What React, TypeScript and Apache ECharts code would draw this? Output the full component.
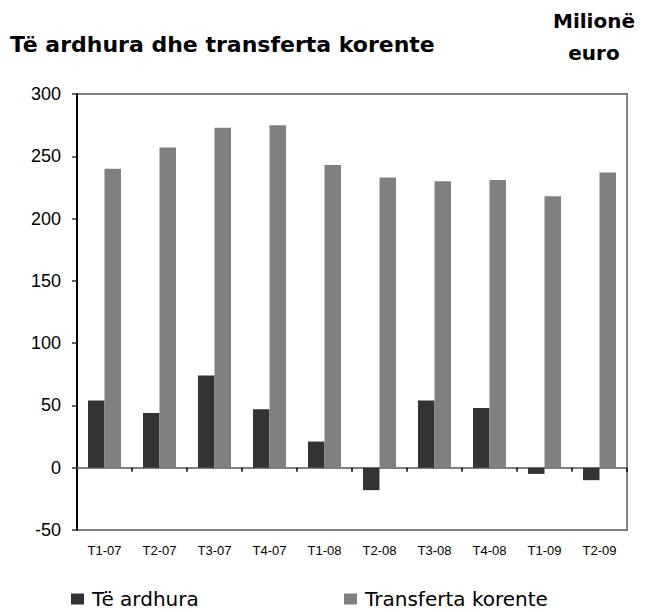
import React, { useEffect, useRef } from "react";
import * as echarts from "echarts";

const categories = ["T1-07", "T2-07", "T3-07", "T4-07", "T1-08", "T2-08", "T3-08", "T4-08", "T1-09", "T2-09"];
const ardhura = [54, 44, 74, 47, 21, -18, 54, 48, -5, -10];
const transferta = [240, 257, 273, 275, 243, 233, 230, 231, 218, 237];
const seriesNames = ["Të ardhura", "Transferta korente"];
const titleText = "Të ardhura dhe transferta korente";
const unitText = "Milionë\neuro";

export default function App() {
  const ref = useRef<HTMLDivElement>(null);
  useEffect(() => {
    if (!ref.current) return;
    const chart = echarts.init(ref.current, undefined, { renderer: "svg" });
    const legendText = {
      fontFamily: "DejaVu Sans",
      fontSize: 20,
      lineHeight: 22,
      color: "#000",
      padding: [0, 0, 0, 3],
    };
    chart.setOption({
      animation: false,
      backgroundColor: "#ffffff",
      title: {
        text: titleText,
        left: 10,
        top: 33,
        padding: 0,
        textStyle: { fontFamily: "DejaVu Sans", fontWeight: "bold", fontSize: 22, color: "#000" },
      },
      graphic: [
        {
          type: "text",
          x: 594,
          y: 5,
          style: {
            text: unitText,
            textAlign: "center",
            textVerticalAlign: "top",
            font: "bold 20px 'DejaVu Sans'",
            lineHeight: 32,
            fill: "#000",
          },
        },
      ],
      legend: [
        {
          data: [seriesNames[0]],
          left: 71,
          top: 588,
          padding: 0,
          itemWidth: 13,
          itemHeight: 11,
          icon: "rect",
          textStyle: legendText,
        },
        {
          data: [seriesNames[1]],
          left: 344,
          top: 588,
          padding: 0,
          itemWidth: 13,
          itemHeight: 11,
          icon: "rect",
          textStyle: legendText,
        },
      ],
      grid: {
        left: 77,
        right: 18,
        top: 94,
        bottom: 82,
        show: true,
        borderColor: "#808080",
        borderWidth: 2,
        containLabel: false,
        outerBoundsMode: "none",
      },
      xAxis: {
        type: "category",
        data: categories,
        axisLine: { onZero: true, lineStyle: { color: "#808080", width: 2 } },
        axisTick: { show: true, length: 4, lineStyle: { color: "#000", width: 1.5 } },
        axisLabel: { margin: 14, fontFamily: "Liberation Sans", fontSize: 13, color: "#000" },
        splitLine: { show: false },
      },
      yAxis: {
        type: "value",
        min: -50,
        max: 300,
        interval: 50,
        axisLine: { show: true, lineStyle: { color: "#000", width: 2 } },
        axisTick: { show: true, length: 5, lineStyle: { color: "#333", width: 1.5 } },
        axisLabel: { margin: 16, fontFamily: "Liberation Sans", fontSize: 18, color: "#000" },
        splitLine: { show: false },
      },
      series: [
        {
          name: seriesNames[0],
          type: "bar",
          data: ardhura,
          barWidth: 16.5,
          barGap: "0%",
          itemStyle: { color: "#333333" },
        },
        {
          name: seriesNames[1],
          type: "bar",
          data: transferta,
          barWidth: 16.5,
          barGap: "0%",
          itemStyle: { color: "#808080" },
        },
      ],
    });
    return () => chart.dispose();
  }, []);
  return (
    <div
      ref={ref}
      style={{ position: "fixed", left: 0, top: 0, width: 645, height: 612 }}
    />
  );
}
